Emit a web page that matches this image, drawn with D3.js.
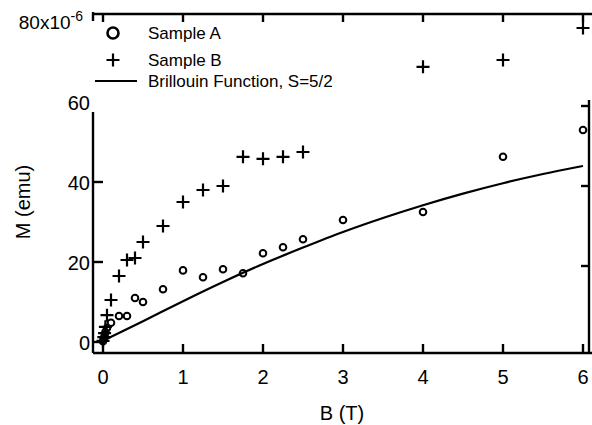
<!DOCTYPE html>
<html>
<head>
<meta charset="utf-8">
<script src="https://cdn.jsdelivr.net/npm/d3@7/dist/d3.min.js"></script>
<style>
  body { margin: 0; background: #fff; }
  svg text { font-family: "Liberation Sans", Arial, sans-serif; fill: #000; }
</style>
</head>
<body>
<svg id="chart" width="592" height="425"></svg>
<script>
// data, B in tesla, M in units of 1e-6 emu
const sampleA_B = [0, 0.01, 0.02, 0.03, 0.05, 0.1, 0.2, 0.3, 0.4, 0.5, 0.75, 1.0, 1.25, 1.5, 1.75, 2.0, 2.25, 2.5, 3, 4, 5, 6];
const sampleA_M = [0.2, 0.8, 1.5, 2.5, 3.5, 4.8, 6.5, 6.5, 11, 10, 13.2, 17.9, 16.2, 18.2, 17.2, 22.2, 23.7, 25.7, 30.5, 32.5, 46.3, 53];

const sampleB_B = [0, 0.01, 0.02, 0.03, 0.05, 0.1, 0.2, 0.3, 0.4, 0.5, 0.75, 1.0, 1.25, 1.5, 1.75, 2.0, 2.25, 2.5, 4, 5, 6];
const sampleB_M = [0.3, 1.2, 2.2, 3.8, 6.7, 10.5, 16.5, 20.5, 21, 25, 29, 35, 38, 39, 46.3, 45.8, 46.3, 47.5, 68.8, 70.5, 78.5];

const brill_B = [0, 0.5, 1, 1.5, 2, 2.5, 3, 3.5, 4, 4.5, 5, 5.5, 6];
const brill_M = [0.3, 5.2, 10.2, 15, 19.5, 23.6, 27.5, 31, 34.2, 37.1, 39.7, 42, 44];

const xTicks = [0, 1, 2, 3, 4, 5, 6];
const yTicks = [0, 20, 40, 60];
const legendItems = ["Sample A", "Sample B", "Brillouin Function, S=5/2"];

const svg = d3.select("#chart");

const x = d3.scaleLinear().domain([-0.125, 6.0875]).range([93, 590]);
const y = d3.scaleLinear().domain([-2.75, 82.25]).range([353, 13]);

const xLeft = 93, xRight = 589, yBottom = 353, yTop = 14;

// Brillouin curve
const line = d3.line()
    .x((d, i) => x(brill_B[i]))
    .y(d => y(d))
    .curve(d3.curveMonotoneX);

svg.append("path")
    .datum(brill_M)
    .attr("fill", "none")
    .attr("stroke", "#000")
    .attr("stroke-width", 2.2)
    .attr("d", line);

// sample A: open circles
svg.append("g")
    .selectAll("circle")
    .data(sampleA_M)
    .enter().append("circle")
    .attr("cx", (d, i) => x(sampleA_B[i]))
    .attr("cy", d => y(d))
    .attr("r", 3.3)
    .attr("fill", "none")
    .attr("stroke", "#000")
    .attr("stroke-width", 2);

// sample B: plus signs
function plusPath(cx, cy, s) {
    return `M${cx - s},${cy}H${cx + s}M${cx},${cy - s}V${cy + s}`;
}
svg.append("g")
    .selectAll("path")
    .data(sampleB_M)
    .enter().append("path")
    .attr("d", (d, i) => plusPath(x(sampleB_B[i]), y(d), 6.5))
    .attr("stroke", "#000")
    .attr("stroke-width", 2.2)
    .attr("fill", "none");

// legend with opaque background (it hides part of the left axis, as in the original)
const legend = svg.append("g");
legend.append("rect")
    .attr("x", xLeft - 1.5).attr("y", 21)
    .attr("width", 250).attr("height", 91)
    .attr("fill", "#fff");

legend.append("ellipse")
    .attr("cx", 113).attr("cy", 33)
    .attr("rx", 5.5).attr("ry", 5.5)
    .attr("fill", "none").attr("stroke", "#000").attr("stroke-width", 2.6);
legend.append("path")
    .attr("d", plusPath(113, 60, 6.5))
    .attr("stroke", "#000").attr("stroke-width", 2.2);
legend.append("line")
    .attr("x1", 95).attr("x2", 137).attr("y1", 81).attr("y2", 81)
    .attr("stroke", "#000").attr("stroke-width", 2.2);

legend.selectAll("text")
    .data(legendItems)
    .enter().append("text")
    .attr("x", 148)
    .attr("y", (d, i) => [33, 60, 81][i])
    .attr("dominant-baseline", "central")
    .style("font-size", "17px")
    .text(d => d);

// frame
const frame = svg.append("g").attr("stroke", "#000").attr("stroke-width", 2.4).attr("fill", "none");
frame.append("path").attr("d", `M${xLeft},${yTop}H592`);
frame.append("path").attr("d", `M${xLeft},${yBottom}H592`);
frame.append("path").attr("d", `M${xLeft},${yTop - 2}V21`);
frame.append("path").attr("d", `M${xLeft},112V${yBottom}`);
frame.append("path").attr("d", `M${xRight},${y(60.5)}V${yBottom}`);

// x ticks, bottom and top, pointing in
xTicks.forEach(t => {
    frame.append("path").attr("d", `M${x(t)},${yBottom}V${yBottom - 9}`);
    frame.append("path").attr("d", `M${x(t)},${yTop}V${yTop + 8}`);
});
// y ticks, left and right, pointing in (60 is hidden under the legend)
[0, 20, 40].forEach(t => {
    frame.append("path").attr("d", `M${xLeft},${y(t)}H${xLeft + 10}`);
});
[20, 40, 60].forEach(t => {
    frame.append("path").attr("d", `M${xRight},${y(t) + 4}H${xRight - 8}`);
});

// tick labels
svg.append("g")
    .selectAll("text")
    .data(xTicks)
    .enter().append("text")
    .attr("x", d => x(d))
    .attr("y", 377)
    .attr("text-anchor", "middle")
    .attr("dominant-baseline", "central")
    .style("font-size", "20px")
    .text(d => d);

svg.append("g")
    .selectAll("text")
    .data(yTicks)
    .enter().append("text")
    .attr("x", 90)
    .attr("y", d => y(d) + 1)
    .attr("text-anchor", "end")
    .attr("dominant-baseline", "central")
    .style("font-size", "20px")
    .text(d => d);

const topLabel = svg.append("text")
    .attr("x", 83)
    .attr("y", y(80) + 7)
    .attr("text-anchor", "end")
    .style("font-size", "19px");
topLabel.append("tspan").text("80x10");
topLabel.append("tspan").attr("dy", -8).style("font-size", "14px").text("-6");

// axis titles
svg.append("text")
    .attr("x", 342)
    .attr("y", 413)
    .attr("text-anchor", "middle")
    .attr("dominant-baseline", "central")
    .style("font-size", "20px")
    .text("B (T)");

svg.append("text")
    .attr("transform", "translate(23,202) rotate(-90)")
    .attr("text-anchor", "middle")
    .attr("dominant-baseline", "central")
    .style("font-size", "20px")
    .text("M (emu)");
</script>
</body>
</html>
